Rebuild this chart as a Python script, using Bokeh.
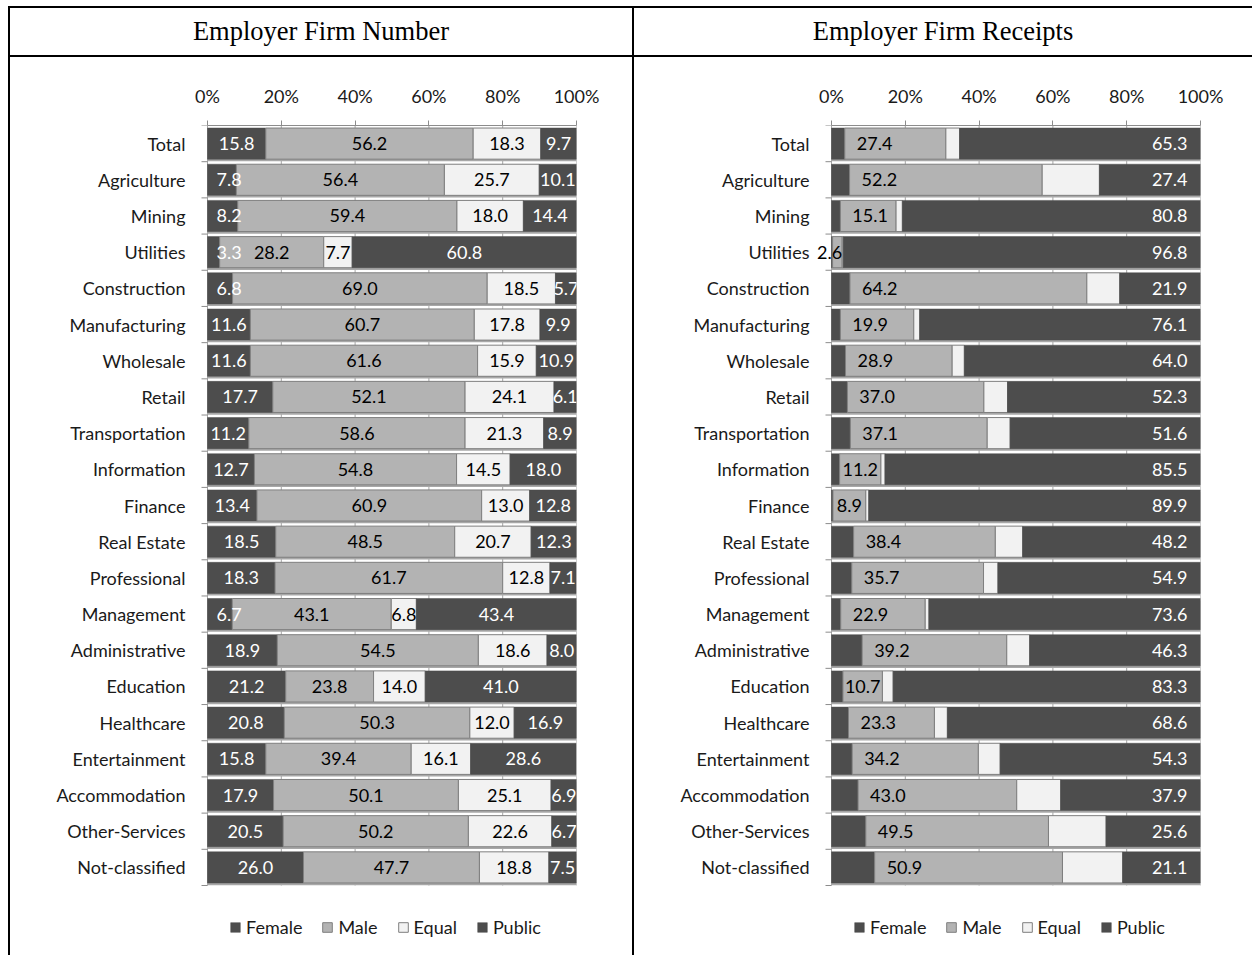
from bokeh.plotting import figure
from bokeh.models import (ColumnDataSource, Range1d, FixedTicker, Legend, LegendItem,
                          Div, LabelSet)
from bokeh.layouts import row, column
from bokeh.embed import file_html
from bokeh.resources import INLINE
from bokeh.core.properties import value

industries = ["Total", "Agriculture", "Mining", "Utilities", "Construction",
              "Manufacturing", "Wholesale", "Retail", "Transportation",
              "Information", "Finance", "Real Estate", "Professional",
              "Management", "Administrative", "Education", "Healthcare",
              "Entertainment", "Accommodation", "Other-Services", "Not-classified"]

# Share of employer firms (%)
number_female = [15.8, 7.8, 8.2, 3.3, 6.8, 11.6, 11.6, 17.7, 11.2, 12.7, 13.4,
                 18.5, 18.3, 6.7, 18.9, 21.2, 20.8, 15.8, 17.9, 20.5, 26.0]
number_male = [56.2, 56.4, 59.4, 28.2, 69.0, 60.7, 61.6, 52.1, 58.6, 54.8, 60.9,
               48.5, 61.7, 43.1, 54.5, 23.8, 50.3, 39.4, 50.1, 50.2, 47.7]
number_equal = [18.3, 25.7, 18.0, 7.7, 18.5, 17.8, 15.9, 24.1, 21.3, 14.5, 13.0,
                20.7, 12.8, 6.8, 18.6, 14.0, 12.0, 16.1, 25.1, 22.6, 18.8]
number_public = [9.7, 10.1, 14.4, 60.8, 5.7, 9.9, 10.9, 6.1, 8.9, 18.0, 12.8,
                 12.3, 7.1, 43.4, 8.0, 41.0, 16.9, 28.6, 6.9, 6.7, 7.5]

# Share of employer firm receipts (%)
receipts_female = [3.6, 4.9, 2.4, 0.3, 5.0, 2.4, 3.8, 4.3, 5.1, 2.2, 0.4,
                   6.0, 5.5, 2.5, 8.3, 3.1, 4.6, 5.6, 7.2, 9.3, 11.7]
receipts_male = [27.4, 52.2, 15.1, 2.6, 64.2, 19.9, 28.9, 37.0, 37.1, 11.2, 8.9,
                 38.4, 35.7, 22.9, 39.2, 10.7, 23.3, 34.2, 43.0, 49.5, 50.9]
receipts_equal = [3.7, 15.5, 1.7, 0.3, 8.9, 1.6, 3.3, 6.4, 6.2, 1.1, 0.8,
                  7.4, 3.9, 1.0, 6.2, 2.9, 3.5, 5.9, 11.9, 15.6, 16.3]
receipts_public = [65.3, 27.4, 80.8, 96.8, 21.9, 76.1, 64.0, 52.3, 51.6, 85.5, 89.9,
                   48.2, 54.9, 73.6, 46.3, 83.3, 68.6, 54.3, 37.9, 25.6, 21.1]

x_ticks = [0, 20, 40, 60, 80, 100]
x_tick_labels = ["0%", "20%", "40%", "60%", "80%", "100%"]
series_names = ["Female", "Male", "Equal", "Public"]

FONT = "Lato"
FS = "18px"
DARK = "#4d4d4d"
MALE = "#b3b3b3"
EQUAL = "#f2f2f2"
EDGE = "#7f7f7f"
AXIS = "#8c8c8c"
GRID = "#a6a6a6"
TXT = "#1a1a1a"
BAR_H = 0.86

FIG_H = 898
TOP = 68           # space for the percentage axis
PLOT_W = 369       # pixels for 0..100 %
PX_PER_PCT = PLOT_W / 100
LEFT_PAD = 20      # room inside the frame, left of 0 %, for overhanging labels
ROW_PX = 760 / 21  # height of one category row
TICK_PX = 6        # category boundary tick length


def stacked_panel(female, male, equal, public, width, style):
    n = len(industries)
    ypos = [n - 1 - i for i in range(n)]  # first category on top
    f0 = [0.0] * n
    f1 = female
    m1 = [a + b for a, b in zip(f1, male)]
    e1 = [a + b for a, b in zip(m1, equal)]
    p1 = [a + b for a, b in zip(e1, public)]

    src = ColumnDataSource(dict(y=ypos, ys=[y - 0.06 for y in ypos],
                                f0=f0, f1=f1, m1=m1, e1=e1, p1=p1))

    # the frame runs down to the figure's bottom so the legend can sit under the bars
    frame_h = FIG_H - TOP
    y_top = n - 0.5
    y_bottom = y_top - frame_h / ROW_PX
    x_left = -LEFT_PAD / PX_PER_PCT

    p = figure(width=width, height=FIG_H, x_range=Range1d(x_left, 100),
               y_range=Range1d(y_bottom, y_top), x_axis_location="above",
               output_backend="svg", toolbar_location=None,
               min_border_left=197 - LEFT_PAD, min_border_right=width - 197 - PLOT_W,
               min_border_top=TOP, min_border_bottom=0)
    p.outline_line_color = None
    p.background_fill_color = "white"
    p.border_fill_color = "white"
    p.xgrid.grid_line_color = None
    p.ygrid.grid_line_color = None

    # vertical grid lines, limited to the bar area
    p.segment(x0=x_ticks, x1=x_ticks, y0=[-0.5] * len(x_ticks),
              y1=[n - 0.5] * len(x_ticks), line_color=GRID, line_width=1)
    # short ticks at the category boundaries, left of 0 %
    bounds_y = [k - 0.5 for k in range(n + 1)]
    p.segment(x0=[-TICK_PX / PX_PER_PCT] * len(bounds_y), x1=[0] * len(bounds_y),
              y0=bounds_y, y1=bounds_y, line_color=AXIS, line_width=1)

    # bar shadows
    p.hbar(y="ys", left="f0", right="p1", height=BAR_H, source=src,
           fill_color="#a8a8a8", line_color=None)

    rf = p.hbar(y="y", left="f0", right="f1", height=BAR_H, source=src,
                fill_color=DARK, line_color=DARK, line_width=0.5)
    rm = p.hbar(y="y", left="f1", right="m1", height=BAR_H, source=src,
                fill_color=MALE, line_color=EDGE, line_width=1)
    re = p.hbar(y="y", left="m1", right="e1", height=BAR_H, source=src,
                fill_color=EQUAL, line_color=EDGE, line_width=1)
    rp = p.hbar(y="y", left="e1", right="p1", height=BAR_H, source=src,
                fill_color=DARK, line_color=DARK, line_width=0.5)

    def put(items, color, align, offset):
        if not items:
            return
        s = ColumnDataSource(dict(x=[a[0] for a in items], y=[a[1] for a in items],
                                  t=[a[2] for a in items]))
        p.add_layout(LabelSet(x="x", y="y", text="t", source=s, text_color=color,
                              text_align=align, text_baseline="middle",
                              x_offset=offset, text_font=value(FONT),
                              text_font_size=FS))

    fmt = lambda v: f"{v:.1f}"
    if style == "number":
        # female: pushed in from the axis when the segment is narrow
        put([(0.0, y, fmt(v)) for v, y in zip(female, ypos) if v < 9], "white", "left", 9)
        put([(v / 2, y, fmt(v)) for v, y in zip(female, ypos) if v >= 9], "white", "center", 0)
        put([(a + v / 2, y, fmt(v)) for a, v, y in zip(f1, male, ypos)], "black", "center", 0)
        put([(a + v / 2, y, fmt(v)) for a, v, y in zip(m1, equal, ypos)], "black", "center", 0)
        put([(a + v / 2, y, fmt(v)) for a, v, y in zip(e1, public, ypos)], "white", "center", 0)
    else:
        put([(a, y, fmt(v)) for a, v, y in zip(f1, male, ypos) if v >= 15], "black", "left", 12)
        put([(a + v / 2, y, fmt(v)) for a, v, y in zip(f1, male, ypos) if 5 <= v < 15],
            "black", "center", 0)
        put([(b, y, fmt(v)) for b, v, y in zip(m1, male, ypos) if v < 5], "black", "right", 0)
        put([(b, y, fmt(v)) for b, v, y in zip(p1, public, ypos)], "white", "right", -13)

    # x axis (top), drawn over 0..100 % only
    xa = p.xaxis[0]
    xa.bounds = (0, 100)
    xa.ticker = FixedTicker(ticks=x_ticks)
    xa.major_label_overrides = {t: l for t, l in zip(x_ticks, x_tick_labels)}
    xa.axis_line_color = AXIS
    xa.major_tick_line_color = AXIS
    xa.major_tick_out = 5
    xa.major_tick_in = 0
    xa.minor_tick_line_color = None
    xa.major_label_text_font = FONT
    xa.major_label_text_font_size = FS
    xa.major_label_text_color = TXT
    xa.major_label_standoff = 14

    # y axis: category names only (line and ticks are drawn in the frame)
    ya = p.yaxis[0]
    ya.ticker = FixedTicker(ticks=ypos)
    ya.major_label_overrides = {y: name for y, name in zip(ypos, industries)}
    ya.axis_line_color = None
    ya.major_tick_line_color = None
    ya.minor_tick_line_color = None
    ya.major_tick_out = 0
    ya.major_tick_in = 0
    ya.minor_tick_out = 0
    ya.minor_tick_in = 0
    ya.major_label_text_font = FONT
    ya.major_label_text_font_size = FS
    ya.major_label_text_color = TXT
    ya.major_label_standoff = 2

    legend = Legend(items=[LegendItem(label=series_names[0], renderers=[rf]),
                           LegendItem(label=series_names[1], renderers=[rm]),
                           LegendItem(label=series_names[2], renderers=[re]),
                           LegendItem(label=series_names[3], renderers=[rp])],
                    orientation="horizontal", location=(LEFT_PAD + 22, 17))
    legend.label_text_font = FONT
    legend.label_text_font_size = FS
    legend.label_text_color = TXT
    legend.glyph_width = 12
    legend.glyph_height = 12
    legend.label_standoff = 5
    legend.spacing = 19
    legend.padding = 0
    legend.margin = 0
    legend.border_line_color = None
    legend.background_fill_alpha = 0
    p.add_layout(legend)
    return p


left = stacked_panel(number_female, number_male, number_equal, number_public, 622, "number")
right = stacked_panel(receipts_female, receipts_male, receipts_equal, receipts_public, 618, "receipts")


def blank(w, h):
    return Div(text="", width=w, height=h, margin=0)


def rule(w, h):
    return Div(text="", width=w, height=h, margin=0,
               styles={"background-color": "black"})


def header(text, w):
    return Div(text=text, width=w, height=47, margin=0,
               styles={"font-family": "Liberation Serif", "font-size": "26.5px",
                       "text-align": "center", "line-height": "47px",
                       "color": "black", "white-space": "nowrap"})


page = column(
    blank(1252, 6),
    row(blank(8, 2), rule(1244, 2), spacing=0),
    row(blank(8, 47), rule(2, 47), header("Employer Firm Number", 622),
        rule(2, 47), header("Employer Firm Receipts", 618), spacing=0),
    row(blank(8, 2), rule(1244, 2), spacing=0),
    row(blank(8, FIG_H), rule(2, FIG_H), left, rule(2, FIG_H), right, spacing=0),
    spacing=0,
)

open("out.html", "w").write(file_html(page, INLINE))
